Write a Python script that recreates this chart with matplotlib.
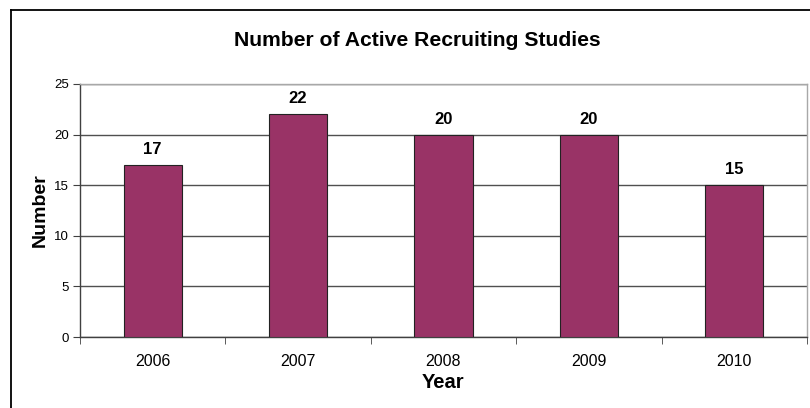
import matplotlib
matplotlib.use("Agg")
import matplotlib.pyplot as plt
from matplotlib.lines import Line2D

years = ["2006", "2007", "2008", "2009", "2010"]
counts = [17, 22, 20, 20, 15]
yticks = [0, 5, 10, 15, 20, 25]

plt.rcParams['font.family'] = ['Liberation Sans', 'DejaVu Sans']

fig = plt.figure(figsize=(8.10, 4.08), dpi=100)
W, H = 810, 408

# outer chart frame (extends beyond image to the right/bottom)
fig.add_artist(Line2D([11/W, 11/W], [0, 1 - 10/H], transform=fig.transFigure, color='black', lw=1.3))
fig.add_artist(Line2D([11/W, 1.0], [1 - 10/H, 1 - 10/H], transform=fig.transFigure, color='black', lw=1.3))

ax = fig.add_axes([80/W, (H - 337)/H, (807 - 80)/W, (337 - 84)/H])
x = list(range(len(years)))
ax.bar(x, counts, width=0.4, color='#993366', edgecolor='#222222', linewidth=0.8, zorder=3)
for xi, v in zip(x, counts):
    ax.text(xi, v + 0.8, str(v), ha='center', va='bottom', fontsize=12, fontweight='bold')

ax.set_xlim(-0.5, len(years) - 0.5)
ax.set_ylim(0, 25)
ax.set_yticks(yticks)
ax.set_yticklabels([str(t) for t in yticks], fontsize=9.5)
ax.yaxis.grid(True, color='#505050', linewidth=1.0, zorder=0)
ax.set_axisbelow(True)

ax.set_xticks(x)
ax.set_xticklabels(years, fontsize=11.5)
ax.tick_params(axis='x', which='major', length=0, pad=12)
ax.set_xticks([i - 0.5 for i in range(len(years) + 1)], minor=True)
ax.tick_params(axis='x', which='minor', length=5, direction='out', color='#404040')
ax.tick_params(axis='y', length=5, direction='out', color='#404040', pad=3)

for s in ['left', 'bottom']:
    ax.spines[s].set_color('#404040')
    ax.spines[s].set_linewidth(1.0)
for s in ['top', 'right']:
    ax.spines[s].set_color('#a8a8a8')
    ax.spines[s].set_linewidth(1.0)

ax.set_ylabel('Number', fontsize=14, fontweight='bold', labelpad=4)
ax.set_xlabel('Year', fontsize=14.5, fontweight='bold', labelpad=3)
fig.text(417/W, 1 - 40/H, 'Number of Active Recruiting Studies', ha='center', va='center',
         fontsize=15.2, fontweight='bold')

fig.savefig('out.png', dpi=100)
